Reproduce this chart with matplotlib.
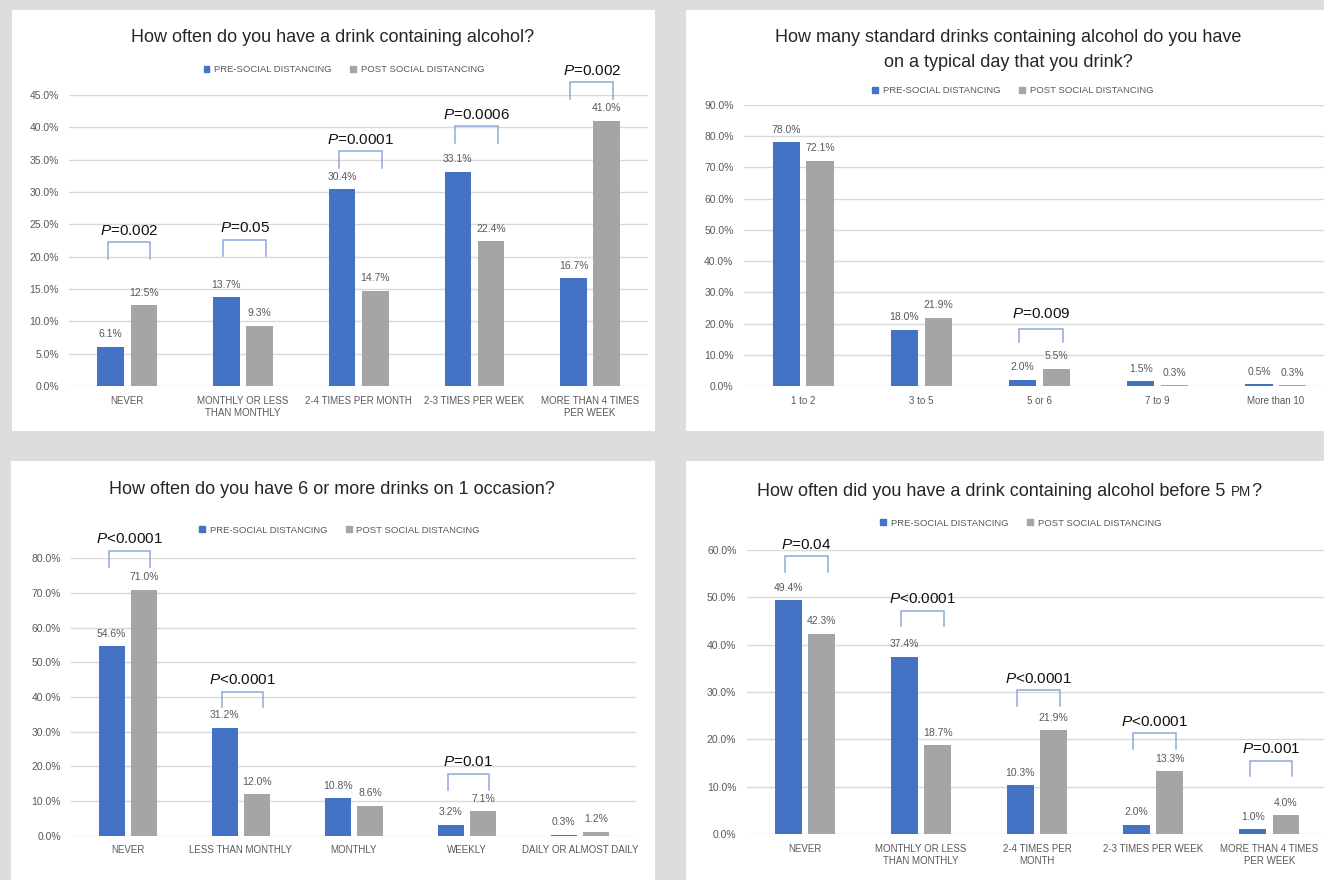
import matplotlib
matplotlib.use("Agg")
import matplotlib.pyplot as plt
from matplotlib.patches import Rectangle
from matplotlib.font_manager import FontProperties
import numpy as np

# ---------------- data ----------------
cats1 = ["NEVER", "MONTHLY OR LESS\nTHAN MONTHLY", "2-4 TIMES PER MONTH",
         "2-3 TIMES PER WEEK", "MORE THAN 4 TIMES\nPER WEEK"]
pre1 = [6.1, 13.7, 30.4, 33.1, 16.7]
post1 = [12.5, 9.3, 14.7, 22.4, 41.0]
pidx1 = [0, 1, 2, 3, 4]
ptxt1 = ["=0.002", "=0.05", "=0.0001", "=0.0006", "=0.002"]

cats2 = ["1 to 2", "3 to 5", "5 or 6", "7 to 9", "More than 10"]
pre2 = [78.0, 18.0, 2.0, 1.5, 0.5]
post2 = [72.1, 21.9, 5.5, 0.3, 0.3]
pidx2 = [2]
ptxt2 = ["=0.009"]

cats3 = ["NEVER", "LESS THAN MONTHLY", "MONTHLY", "WEEKLY", "DAILY OR ALMOST DAILY"]
pre3 = [54.6, 31.2, 10.8, 3.2, 0.3]
post3 = [71.0, 12.0, 8.6, 7.1, 1.2]
pidx3 = [0, 1, 3]
ptxt3 = ["<0.0001", "<0.0001", "=0.01"]

cats4 = ["NEVER", "MONTHLY OR LESS\nTHAN MONTHLY", "2-4 TIMES PER\nMONTH",
         "2-3 TIMES PER WEEK", "MORE THAN 4 TIMES\nPER WEEK"]
pre4 = [49.4, 37.4, 10.3, 2.0, 1.0]
post4 = [42.3, 18.7, 21.9, 13.3, 4.0]
pidx4 = [0, 1, 2, 3, 4]
ptxt4 = ["=0.04", "<0.0001", "<0.0001", "<0.0001", "=0.001"]

series_names = ["PRE-SOCIAL DISTANCING", "POST SOCIAL DISTANCING"]

# ------------- layout (annotation heights, in axis units) -------------
pbr1 = [22.2, 22.6, 36.3, 40.2, 47.0]
pbr2 = [18.2]
pbr3 = [82.1, 41.5, 17.7]
pbr4 = [58.7, 47.2, 30.4, 21.3, 15.5]

BLUE = "#4472C4"
GRAY = "#A5A5A5"
BRACKET = "#8FAADC"
TXT = "#595959"
BG = "#DCDDDF"

W, H = 1324, 880
plt.rcParams["font.family"] = ["Liberation Sans", "DejaVu Sans"]
plt.rcParams["mathtext.fontset"] = "custom"
plt.rcParams["mathtext.rm"] = "Liberation Sans"
plt.rcParams["mathtext.it"] = "Liberation Sans:italic"
TITLE_FAM = ["Liberation Sans", "DejaVu Sans"]

fig = plt.figure(figsize=(W / 100, H / 100), dpi=100, facecolor=BG)


def fx(px):
    return px / W


def fy(py):
    return 1 - py / H


# white panels
for (x0, y0, x1, y1) in [(12, 10, 655, 431.5), (686, 10, 1324, 431.5),
                         (11, 461, 655, 880), (686, 461, 1324, 880)]:
    fig.patches.append(Rectangle((fx(x0), fy(y1)), fx(x1) - fx(x0), fy(y0) - fy(y1),
                                 transform=fig.transFigure, facecolor="white",
                                 edgecolor="none", zorder=-5))


def make_axes(left, right, ybase, ytop):
    return fig.add_axes([fx(left), fy(ybase), fx(right) - fx(left), (ybase - ytop) / H])


def draw_panel(ax, cats, pre, post, ymax, step, pidx, ptxt, pbr, leg_px, txt_px):
    n = len(cats)
    x = np.arange(n)
    off, bw = 0.143, 0.23
    ax.bar(x - off, pre, bw, color=BLUE, zorder=2)
    ax.bar(x + off, post, bw, color=GRAY, zorder=2)
    ax.set_xlim(-0.5, n - 0.5)
    ax.set_ylim(0, ymax)
    ticks = np.arange(0, ymax + 0.001, step)
    ax.set_yticks(ticks)
    ax.set_yticklabels([f"{t:.1f}%" for t in ticks])
    ax.set_xticks(x)
    ax.set_xticklabels(cats, linespacing=1.25)
    ax.set_facecolor("none")
    ax.yaxis.grid(True, color="#D9D9D9", lw=1.0, zorder=0)
    ax.set_axisbelow(True)
    for s in ax.spines.values():
        s.set_visible(False)
    ax.tick_params(axis="both", length=0, colors=TXT)
    ax.tick_params(axis="y", labelsize=7.5, pad=7.5)
    ax.tick_params(axis="x", labelsize=7.0, pad=7)
    for xi, v in zip(x, pre):
        ax.annotate(f"{v:.1f}%", (xi - off, v), xytext=(0, 9), textcoords="offset points",
                    ha="center", va="center", fontsize=7.5, color=TXT)
    for xi, v in zip(x, post):
        ax.annotate(f"{v:.1f}%", (xi + off, v), xytext=(0, 9), textcoords="offset points",
                    ha="center", va="center", fontsize=7.5, color=TXT)
    # p-value brackets
    pos = ax.get_position()
    ppu = pos.height * H / ymax
    leg = leg_px / ppu
    for i, t, top in zip(pidx, ptxt, pbr):
        xa, xb = i - 0.17, i + 0.20
        ax.plot([xa, xa, xb, xb], [top - leg, top, top, top - leg], color=BRACKET,
                lw=1.1, clip_on=False, zorder=3, solid_joinstyle="miter")
        ax.annotate(r"$\it{P}$" + t, ((xa + xb) / 2, top), xytext=(0, txt_px * 0.72),
                    textcoords="offset points", ha="center", va="center", fontsize=11,
                    color="#111111", annotation_clip=False)


def legend(cx, cy):
    handles = [Rectangle((0, 0), 1, 1, color=BLUE), Rectangle((0, 0), 1, 1, color=GRAY)]
    fig.legend(handles, series_names, loc="center", bbox_to_anchor=(fx(cx), fy(cy)),
               ncol=2, frameon=False, fontsize=6.8, handlelength=0.6, handleheight=0.6,
               handletextpad=0.5, columnspacing=2.0, labelcolor=TXT)


TCOL = "#262626"
TSIZE = 13

ax1 = make_axes(69.4, 648, 386, 95)
draw_panel(ax1, cats1, pre1, post1, 45, 5, pidx1, ptxt1, pbr1, 16.5, 11.5)
fig.text(fx(332.5), fy(37.3), "How often do you have a drink containing alcohol?",
         ha="center", va="center", fontsize=TSIZE, color=TCOL, family=TITLE_FAM)
legend(344, 70)

ax2 = make_axes(744, 1335, 386, 105)
draw_panel(ax2, cats2, pre2, post2, 90, 10, pidx2, ptxt2, pbr2, 13, 15)
fig.text(fx(1008), fy(37.3), "How many standard drinks containing alcohol do you have",
         ha="center", va="center", fontsize=TSIZE, color=TCOL, family=TITLE_FAM)
fig.text(fx(1008), fy(62.7), "on a typical day that you drink?",
         ha="center", va="center", fontsize=TSIZE, color=TCOL, family=TITLE_FAM)
legend(1012.8, 90.7)

ax3 = make_axes(71.3, 636.3, 835.7, 558.3)
draw_panel(ax3, cats3, pre3, post3, 80, 10, pidx3, ptxt3, pbr3, 15.5, 12)
fig.text(fx(332.4), fy(489), "How often do you have 6 or more drinks on 1 occasion?",
         ha="center", va="center", fontsize=TSIZE, color=TCOL, family=TITLE_FAM)
legend(339.6, 530)

ax4 = make_axes(746.8, 1327.3, 834, 550)
draw_panel(ax4, cats4, pre4, post4, 60, 10, pidx4, ptxt4, pbr4, 15.5, 11.5)
legend(1020.8, 523)

# title with small-caps "PM"
t1 = fig.text(fx(755), fy(491.7), "How often did you have a drink containing alcohol before 5 ",
              ha="left", va="center", fontsize=TSIZE, color=TCOL, family=TITLE_FAM)
t2 = fig.text(0, 0, "PM", fontsize=TSIZE * 0.75, color=TCOL, family=TITLE_FAM,
              ha="left", va="baseline")
t3 = fig.text(0, 0, "?", fontsize=TSIZE, color=TCOL, family=TITLE_FAM,
              ha="left", va="baseline")
fig.canvas.draw()
r = fig.canvas.get_renderer()
b1 = t1.get_window_extent(r)
_, _, d1 = r.get_text_width_height_descent(t1.get_text(), t1.get_fontproperties(), ismath=False)
_, _, dlp = r.get_text_width_height_descent("lp", t1.get_fontproperties(), ismath=False)
base1 = b1.y0 + max(d1, dlp)
t2.set_position((b1.x1 / W, base1 / H))
fig.canvas.draw()
b2 = t2.get_window_extent(r)
t3.set_position((b2.x1 / W, base1 / H))
fig.canvas.draw()
b3 = t3.get_window_extent(r)
total = b3.x1 - b1.x0
shift = (1009 - total / 2) - b1.x0
for t in (t1, t2, t3):
    px, py = t.get_position()
    t.set_position((px + shift / W, py))

fig.savefig("out.png", dpi=100, facecolor=BG)
